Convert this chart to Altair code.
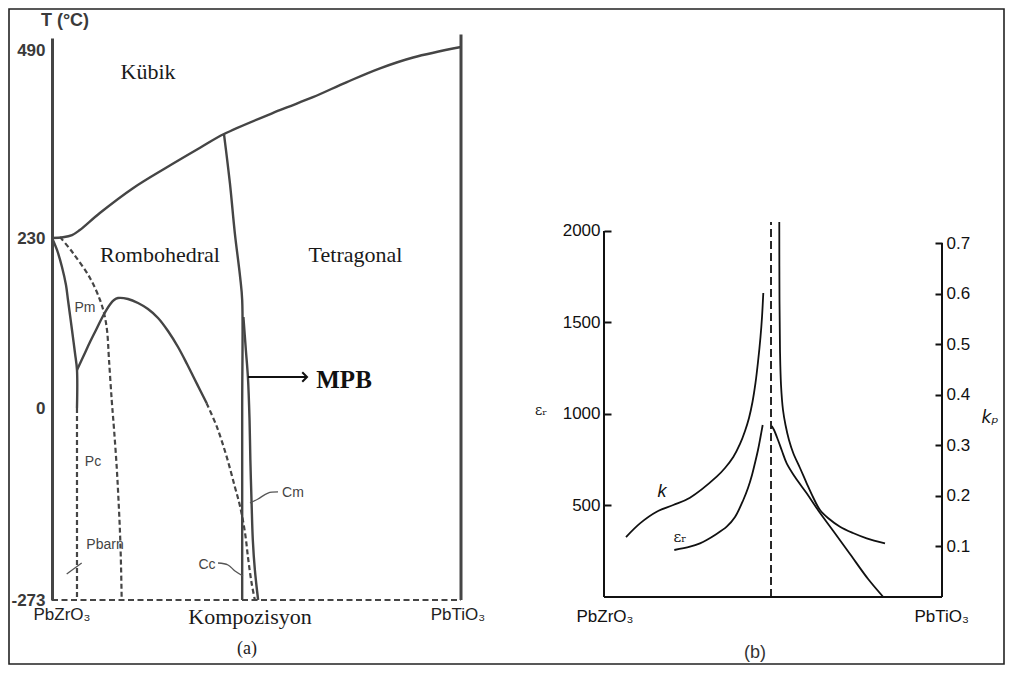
import altair as alt
import pandas as pd

# ================= Panel (a): PZT phase diagram =================
# x = composition (0 = PbZrO3, 1 = PbTiO3), y = temperature in °C
T_TICKS = [490, 230, 0, -273]
T_DOMAIN = [-273, 0, 230, 507]

cubic_x = [0.0, 0.027, 0.049, 0.068, 0.117, 0.198, 0.281, 0.362, 0.4205, 0.557, 0.638, 0.721, 0.802, 0.883, 1.0]
cubic_T = [230, 231, 234, 241, 264.6, 299, 328, 355, 374, 407, 425, 446, 465, 480, 494.5]

mpb_x = [0.4205, 0.435, 0.447, 0.460, 0.465, 0.465, 0.465]
mpb_T = [374, 305.9, 236.9, 177.2, 146, 0, -273]

cm_x = [0.468, 0.474, 0.479, 0.483, 0.485, 0.488, 0.491, 0.496, 0.504]
cm_T = [123.1, 78.5, 41.9, -17.1, -73.9, -135.1, -187.7, -230.3, -273]

rh_x = [0.0611, 0.0782, 0.0929, 0.110, 0.1247, 0.1418, 0.1516, 0.1614, 0.1858, 0.2103, 0.2347,
        0.2592, 0.2836, 0.3081, 0.3301, 0.3472, 0.3619, 0.3783]
rh_T = [51.4, 71.7, 89.3, 108.2, 124.5, 140.0, 146.1, 148.8, 147.5, 142.1, 133.9,
        121.8, 104.2, 82.5, 59.5, 40.6, 24.4, 6.4]

afe_x = [0.0, 0.0122, 0.0244, 0.0342, 0.0391, 0.044, 0.0489, 0.0562, 0.0611, 0.0611]
afe_T = [230, 213.8, 190.8, 166.4, 146.1, 125.8, 105.5, 74.4, 51.4, 0]

cc_x = [0.378, 0.403, 0.427, 0.447, 0.460, 0.472, 0.480, 0.488, 0.496]
cc_T = [6.4, -26.6, -69.2, -111.9, -140.3, -177.7, -216.1, -248.8, -273]

pm_x = [0.0196, 0.0513, 0.0929, 0.1174, 0.1271, 0.1345, 0.1394, 0.146, 0.1518, 0.1582, 0.1626, 0.1663, 0.1687, 0.1704]
pm_T = [231.4, 209.7, 175.9, 146.1, 128.5, 105.5, 64.9, 10.8, -31.3, -83.9, -130.8, -177.7, -223.2, -273]

pc_x = [0.0611, 0.0611]
pc_T = [0, -273]

base_x = [0.0, 1.0]
base_T = [-273, -273]

right_x = [1.0, 1.0]
right_T = [-273, 512]

lead_pbarn_x = [0.0359, 0.0726]
lead_pbarn_T = [-236.0, -220.4]
lead_cc_x = [0.4059, 0.4303, 0.4474, 0.467]
lead_cc_T = [-220.4, -223.2, -231.8, -238.9]
lead_cm_x = [0.5526, 0.5281, 0.5037, 0.4841]
lead_cm_T = [-119.4, -120.9, -129.4, -135.1]

arrow_x = [0.4792, 0.6235]
arrow_T = [41.9, 41.9]

phase_labels = ["Kübik", "Rombohedral", "Tetragonal", "Kompozisyon"]
phase_x = [0.2347, 0.264, 0.742, 0.4841]
phase_T = [459.9, 207, 207, -297]

small_labels = ["Pm", "Pc", "Pbarn", "Cc", "Cm"]
small_x = [0.0807, 0.1002, 0.1296, 0.379, 0.5892]
small_T = [135.3, -76.8, -194.8, -223.2, -120.9]

end_labels_a = ["PbZrO₃", "PbTiO₃"]
end_x_a = [0.0244, 0.9927]
end_T_a = [-294, -294]

# ================= Panel (b): εr and kp across the MPB =================
EPS_TICKS = [500, 1000, 1500, 2000]
KP_TICKS = [0.1, 0.2, 0.3, 0.4, 0.5, 0.6, 0.7]
EPS_MAX = 3054.6
KP_MAX = 1.1054

kL_x = [0.0651, 0.1065, 0.1559, 0.2050, 0.2544, 0.3334, 0.3580, 0.3825, 0.4024, 0.4172, 0.4290,
        0.4393, 0.4482, 0.4556, 0.4630, 0.4675, 0.4713]
kL_kp = [0.1186, 0.1457, 0.1687, 0.1819, 0.1964, 0.2379, 0.2551, 0.2768, 0.3026, 0.3283, 0.3540,
         0.3856, 0.4232, 0.4647, 0.5141, 0.5537, 0.6011]

kR_x = [0.5186, 0.5192, 0.5207, 0.5237, 0.5296, 0.5370, 0.5473, 0.5601, 0.5799, 0.5997, 0.6183,
        0.6391, 0.6627, 0.6982, 0.7367, 0.7772, 0.8314]
kR_kp = [0.7415, 0.5873, 0.4884, 0.4192, 0.3698, 0.3401, 0.3105, 0.2842, 0.2551, 0.2248, 0.1977,
         0.1720, 0.1562, 0.1390, 0.1266, 0.1161, 0.1062]

eL_x = [0.2080, 0.2544, 0.2840, 0.3038, 0.3284, 0.3630, 0.3876, 0.4121, 0.4260, 0.4379, 0.4467,
        0.4556, 0.4630, 0.4695]
eL_eps = [256.8, 274.9, 293.4, 311.5, 338.8, 384.1, 437.2, 530.1, 595.6, 666.7, 732.2,
          803.3, 874.3, 939.9]

eR_x = [0.4962, 0.5030, 0.5148, 0.5266, 0.5405, 0.5651, 0.5997, 0.6340, 0.6784, 0.7278, 0.7820, 0.8263]
eR_eps = [934.4, 912.6, 857.9, 797.8, 730.6, 655.7, 566.7, 472.7, 360.7, 235.0, 96.7, 0]

mpb_b_x = [0.4941, 0.4941]
mpb_b_eps = [0, 2049]

axL_x = [0.0, 0.0]
axL_eps = [0, 2000]
axB_x = [0.0, 1.0]
axB_eps = [0, 0]
axR_x = [1.0, 1.0]
axR_kp = [0, 0.7]

b_ends = ["PbZrO₃", "PbTiO₃"]
b_ends_x = [0.003, 0.999]
b_ends_eps = [-109, -109]

# ---------------- helpers ----------------
def line_df(curves):
    rows = []
    for name, (xs, ys) in curves.items():
        for i, (a, b) in enumerate(zip(xs, ys)):
            rows.append({"c": name, "i": i, "x": a, "y": b})
    return pd.DataFrame(rows)


def text_df(texts, xs, ys):
    return pd.DataFrame({"t": texts, "x": xs, "y": ys})


XA = alt.X("x:Q", scale=alt.Scale(domain=[0, 1], nice=False, zero=False), axis=None)


def ya():
    return alt.Y(
        "y:Q",
        scale=alt.Scale(domain=T_DOMAIN, range=[562, 370, 200, 0], nice=False, zero=False),
        axis=alt.Axis(values=T_TICKS, title=None, ticks=False, grid=False,
                      domainColor="#454545", domainWidth=3,
                      labelFont="Liberation Sans", labelFontSize=17, labelFontWeight="bold",
                      labelColor="#3a3a3a", labelPadding=7, labelExpr="'' + datum.value"),
    )


def ye():
    return alt.Y(
        "y:Q",
        scale=alt.Scale(domain=[0, EPS_MAX], nice=False, zero=False),
        axis=alt.Axis(values=EPS_TICKS, title=None, grid=False, domain=False,
                      orient="left", offset=-7, tickSize=7, tickColor="#111", tickWidth=2,
                      labelFont="Liberation Sans", labelFontSize=17, labelColor="#111",
                      labelPadding=4, labelExpr="'' + datum.value"),
    )


def yk():
    return alt.Y(
        "y:Q",
        scale=alt.Scale(domain=[0, KP_MAX], nice=False, zero=False),
        axis=alt.Axis(values=KP_TICKS, title=None, grid=False, domain=False,
                      orient="right", offset=-7, tickSize=7, tickColor="#111", tickWidth=2,
                      labelFont="Liberation Sans", labelFontSize=17, labelColor="#111",
                      labelPadding=4, format=".1f"),
    )


def lines(curves, yenc, color, width, dash=None, interp="linear"):
    kw = dict(color=color, strokeWidth=width, interpolate=interp, strokeCap="butt")
    if dash:
        kw["strokeDash"] = dash
    return alt.Chart(line_df(curves)).mark_line(**kw).encode(
        x=XA, y=yenc, detail="c:N", order="i:Q"
    )


def texts(df, yenc, **style):
    return alt.Chart(df).mark_text(baseline="middle", align="center", **style).encode(
        x=XA, y=yenc, text="t:N"
    )


GA = "#454545"

# ---------------- panel (a) ----------------
a_solid_smooth = lines({"cubic": (cubic_x, cubic_T), "rh": (rh_x, rh_T), "afe": (afe_x, afe_T),
                        "mpb": (mpb_x, mpb_T), "cm": (cm_x, cm_T)}, ya(), GA, 2.4, interp="catmull-rom")
a_right = lines({"right": (right_x, right_T)}, ya(), GA, 3)
a_dashed = lines({"pm": (pm_x, pm_T), "cc": (cc_x, cc_T), "pc": (pc_x, pc_T)}, ya(), GA, 2.2,
                 dash=[5, 3], interp="catmull-rom")
a_base = lines({"base": (base_x, base_T)}, ya(), GA, 2.2, dash=[6, 3.5])
a_leaders = lines({"pb": (lead_pbarn_x, lead_pbarn_T), "cc": (lead_cc_x, lead_cc_T),
                   "cm": (lead_cm_x, lead_cm_T)}, ya(), "#555", 1.3, interp="catmull-rom")
a_arrow = lines({"arrow": (arrow_x, arrow_T)}, ya(), "#111", 2)
a_head = alt.Chart(pd.DataFrame({"x": [arrow_x[1]], "y": [arrow_T[1]]})).mark_point(
    shape="M -1 -1 L 0 0 L -1 1", filled=False, size=90, color="#111", strokeWidth=2, opacity=1
).encode(x=XA, y=ya())

a_phase = texts(text_df(phase_labels, phase_x, phase_T), ya(),
                font="Liberation Serif", fontSize=22, color="#1a1a1a")
a_mpb = texts(text_df(["MPB"], [0.714], [37.9]), ya(),
              font="Liberation Serif", fontSize=25, fontWeight="bold", color="#111")
a_cap = texts(text_df(["(a)"], [0.4768], [-342.7]), ya(),
              font="Liberation Serif", fontSize=18, color="#222")
a_small = texts(text_df(small_labels, small_x, small_T), ya(),
                font="Liberation Sans", fontSize=14, color="#444")
a_ends = texts(text_df(end_labels_a, end_x_a, end_T_a), ya(),
               font="Liberation Sans", fontSize=17, color="#222")
a_title = texts(text_df(["T (°C)"], [0.0318], [531]), ya(),
                font="Liberation Sans", fontSize=18, fontWeight="bold", color="#3a3a3a")

frame = alt.Chart(pd.DataFrame({"a": [0]})).mark_rect(
    fill="transparent", stroke="#222", strokeWidth=1.6
).encode(x=alt.value(-43), x2=alt.value(952), y=alt.value(-29), y2=alt.value(626))

panel_a = alt.layer(
    frame, a_dashed, a_base, a_solid_smooth, a_right, a_leaders, a_arrow, a_head,
    a_phase, a_mpb, a_cap, a_small, a_ends, a_title
).properties(width=409, height=562)

# ---------------- panel (b) ----------------
B = "#111"
b_eps_lines = lines({"eL": (eL_x, eL_eps), "eR": (eR_x, eR_eps)}, ye(), B, 1.8, interp="catmull-rom")
b_axes = lines({"L": (axL_x, axL_eps), "B": (axB_x, axB_eps)}, ye(), B, 2)
b_dash = lines({"m": (mpb_b_x, mpb_b_eps)}, ye(), B, 1.8, dash=[8, 4])
b_texts = texts(text_df(b_ends, b_ends_x, b_ends_eps), ye(),
                font="Liberation Sans", fontSize=17, color=B)
b_eps_axis_t = texts(text_df(["εᵣ"], [-0.186], [1016]), ye(),
                     font="DejaVu Serif", fontSize=14, color=B)
b_eps_t = texts(text_df(["εᵣ"], [0.2249], [327.9]), ye(),
                font="DejaVu Serif", fontSize=15, color=B)
b_k = texts(text_df(["k"], [0.1716], [573.8]), ye(),
            font="Liberation Sans", fontSize=18, fontStyle="italic", color=B)
b_kp_t = texts(text_df(["kₚ"], [1.142], [978]), ye(),
               font="DejaVu Sans", fontSize=17, fontStyle="italic", color=B)
b_cap = texts(text_df(["(b)"], [0.4467], [-306]), ye(),
              font="Liberation Sans", fontSize=18, color="#333")

eps_layer = alt.layer(b_axes, b_dash, b_eps_lines, b_texts, b_eps_axis_t, b_eps_t, b_k, b_kp_t, b_cap)

b_k_lines = lines({"kL": (kL_x, kL_kp), "kR": (kR_x, kR_kp)}, yk(), B, 1.8, interp="catmull-rom")
b_axR = lines({"R": (axR_x, axR_kp)}, yk(), B, 2)
kp_layer = alt.layer(b_axR, b_k_lines)

panel_b = alt.layer(eps_layer, kp_layer).resolve_scale(y="independent").properties(width=338, height=559)

chart = alt.hconcat(panel_a, panel_b, spacing=143, bounds="flush").properties(
    padding=0, background="white"
).configure_view(stroke=None)

chart.save("out.html", embed_options={"renderer": "svg", "actions": False})
